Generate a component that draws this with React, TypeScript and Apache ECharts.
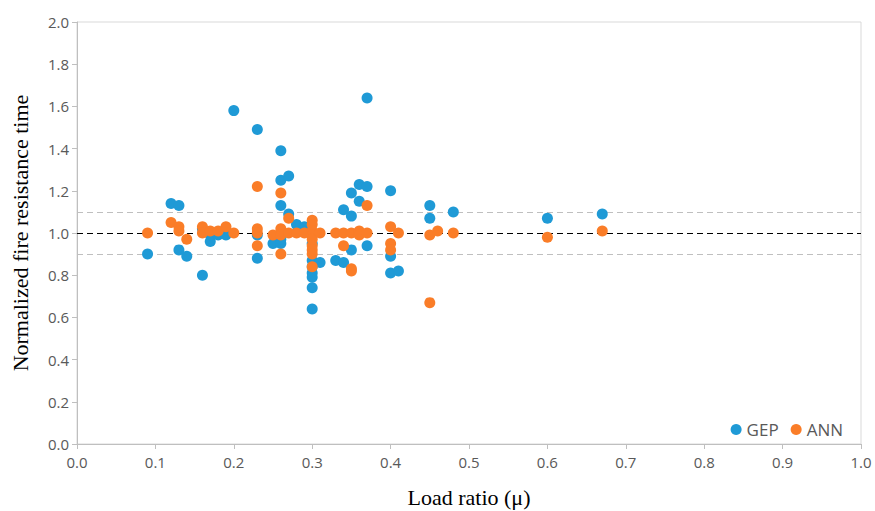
import React, { useEffect, useRef } from "react";
import * as echarts from "echarts";

const gepPoints: [number, number][] = [
  [0.09, 0.9], [0.12, 1.14], [0.13, 1.13], [0.13, 0.92], [0.14, 0.89], [0.16, 0.8], [0.16, 1.02],
  [0.17, 0.96], [0.17, 0.99], [0.18, 0.99], [0.19, 0.99], [0.2, 1.58], [0.23, 1.49], [0.23, 0.88],
  [0.23, 0.99], [0.25, 0.95], [0.26, 1.39], [0.26, 1.25], [0.26, 1.13], [0.26, 0.95], [0.26, 0.97],
  [0.27, 1.27], [0.27, 1.09], [0.28, 1.04], [0.29, 1.03], [0.3, 0.87], [0.3, 0.84], [0.3, 0.81],
  [0.3, 0.79], [0.3, 0.74], [0.3, 0.64], [0.3, 0.95], [0.31, 0.86], [0.33, 0.87], [0.34, 1.11],
  [0.34, 0.86], [0.35, 1.19], [0.35, 1.08], [0.35, 0.92], [0.36, 1.23], [0.36, 1.15], [0.37, 1.64],
  [0.37, 1.22], [0.37, 0.94], [0.4, 1.2], [0.4, 0.89], [0.4, 0.81], [0.41, 0.82], [0.45, 1.13],
  [0.45, 1.07], [0.48, 1.1], [0.6, 1.07], [0.67, 1.09],
];

const annPoints: [number, number][] = [
  [0.09, 1.0], [0.12, 1.05], [0.13, 1.03], [0.13, 1.01], [0.14, 0.97], [0.16, 1.03], [0.16, 1.0],
  [0.17, 1.01], [0.18, 1.01], [0.19, 1.03], [0.2, 1.0], [0.23, 1.22], [0.23, 1.02], [0.23, 1.0],
  [0.23, 0.94], [0.25, 0.99], [0.26, 1.19], [0.26, 1.02], [0.26, 0.99], [0.26, 0.9], [0.27, 1.07],
  [0.27, 1.0], [0.28, 1.0], [0.29, 1.0], [0.3, 1.06], [0.3, 1.04], [0.3, 1.01], [0.3, 0.99],
  [0.3, 0.97], [0.3, 0.94], [0.3, 0.92], [0.3, 0.9], [0.3, 0.84], [0.31, 1.0], [0.33, 1.0],
  [0.34, 1.0], [0.34, 0.94], [0.35, 1.0], [0.35, 0.83], [0.35, 0.82], [0.36, 1.01], [0.36, 0.99],
  [0.37, 1.13], [0.37, 1.0], [0.4, 1.03], [0.4, 0.95], [0.4, 0.92], [0.41, 1.0], [0.45, 0.99],
  [0.45, 0.67], [0.46, 1.01], [0.48, 1.0], [0.6, 0.98], [0.67, 1.01],
];

const refUpper = 1.1;
const refCenter = 1.0;
const refLower = 0.9;

const seriesNames = ["GEP", "ANN"];
const xTitle = "Load ratio (\u03bc)";
const yTitle = "Normalized fire resistance time";

export default function App() {
  const ref = useRef<HTMLDivElement>(null);
  useEffect(() => {
    if (!ref.current) return;
    const chart = echarts.init(ref.current, null, { renderer: "svg" });
    const labelStyle = { color: "#595959", fontSize: 15, fontFamily: "Open Sans, sans-serif" };
    chart.setOption({
      animation: false,
      grid: {
        left: 77,
        top: 22,
        right: 14,
        bottom: 67,
        containLabel: false,
        outerBoundsMode: "none",
        show: true,
        borderColor: "#D9D9D9",
        borderWidth: 1,
        backgroundColor: "transparent",
      },
      legend: {
        data: seriesNames,
        right: 27,
        top: 416,
        icon: "circle",
        itemWidth: 11,
        itemHeight: 11,
        itemGap: 12,
        textStyle: { color: "#595959", fontSize: 17, fontFamily: "Open Sans, sans-serif" },
      },
      xAxis: {
        type: "value",
        min: 0,
        max: 1,
        interval: 0.1,
        name: xTitle,
        nameLocation: "middle",
        nameGap: 42,
        nameTextStyle: { color: "#000", fontSize: 22, fontFamily: "Liberation Serif, serif" },
        axisLine: { show: true, lineStyle: { color: "#BFBFBF" } },
        axisTick: { show: true, length: 5, lineStyle: { color: "#BFBFBF" } },
        splitLine: { show: false },
        axisLabel: { ...labelStyle, margin: 10, formatter: (v: number) => v.toFixed(1) },
      },
      yAxis: {
        type: "value",
        min: 0,
        max: 2,
        interval: 0.2,
        name: yTitle,
        nameLocation: "middle",
        nameGap: 46,
        nameTextStyle: { color: "#000", fontSize: 22, fontFamily: "Liberation Serif, serif" },
        axisLine: { show: true, lineStyle: { color: "#BFBFBF" } },
        axisTick: { show: true, length: 5, lineStyle: { color: "#BFBFBF" } },
        splitLine: { show: false },
        axisLabel: { ...labelStyle, margin: 8, formatter: (v: number) => v.toFixed(1) },
      },
      series: [
        {
          name: "GEP",
          type: "scatter",
          data: gepPoints,
          symbolSize: 11,
          itemStyle: { color: "#1F9AD6", opacity: 1 },
          z: 3,
          markLine: {
            silent: true,
            symbol: ["none", "none"],
            label: { show: false },
            data: [
              { yAxis: refUpper, lineStyle: { color: "#BFBFBF", type: [6, 4], width: 1.2 } },
              { yAxis: refLower, lineStyle: { color: "#BFBFBF", type: [6, 4], width: 1.2 } },
              { yAxis: refCenter, lineStyle: { color: "#000000", type: [6, 4], width: 1.2 } },
            ],
            z: 1,
          },
        },
        {
          name: "ANN",
          type: "scatter",
          data: annPoints,
          symbolSize: 11,
          itemStyle: { color: "#FA7D28", opacity: 1 },
          z: 4,
        },
      ],
    });
    return () => chart.dispose();
  }, []);
  return <div ref={ref} style={{ width: 875, height: 511, position: "absolute", left: 0, top: 0, background: "#fff" }} />;
}
